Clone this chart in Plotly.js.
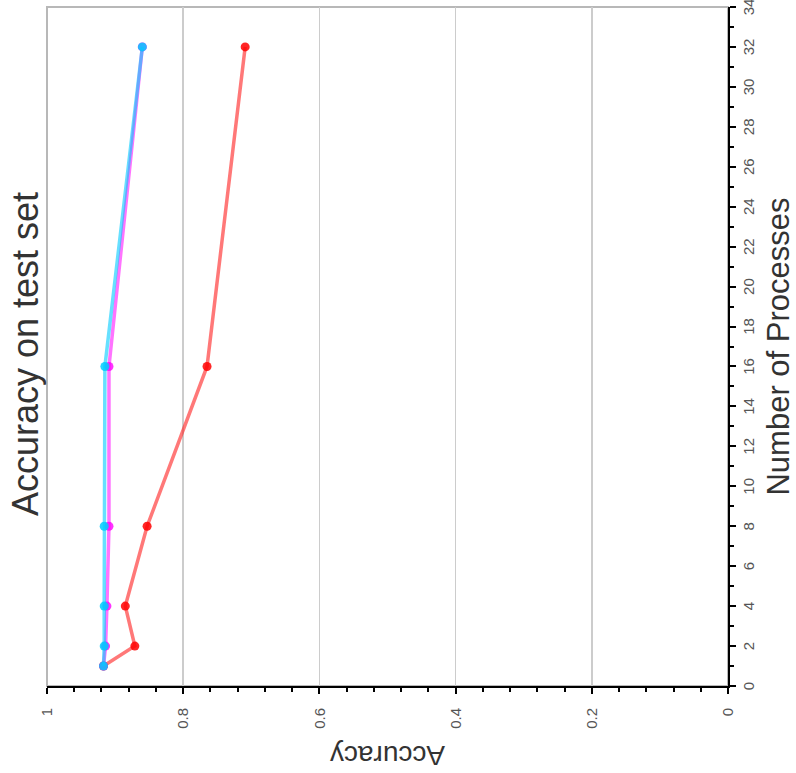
<!DOCTYPE html>
<html>
<head>
<meta charset="utf-8">
<script src="https://cdn.plot.ly/plotly-3.0.1.min.js"></script>
<style>
html, body { margin:0; padding:0; width:796px; height:773px; overflow:hidden; background:#fff; }
#plot { position:absolute; left:0; top:0; width:773px; height:796px;
        transform-origin: 0 0; transform: rotate(-90deg) translate(-773px, 0); }
</style>
</head>
<body>
<div id="plot"></div>
<script>
const processes = [1, 2, 4, 8, 16, 32];
const accRed     = [0.917, 0.871, 0.885, 0.853, 0.765, 0.709];
const accMagenta = [0.917, 0.914, 0.912, 0.909, 0.909, 0.860];
const accCyan    = [0.917, 0.916, 0.916, 0.916, 0.915, 0.860];
const xTickVals = [0,2,4,6,8,10,12,14,16,18,20,22,24,26,28,30,32,34];
const yTickVals = [0, 0.2, 0.4, 0.6, 0.8, 1];

const FONT = 'Liberation Sans, Arial, Helvetica, sans-serif';

function series(y, lineColor, markerColor) {
  return {
    x: processes, y: y, type: 'scatter', mode: 'lines+markers',
    line: {color: lineColor, width: 3.5},
    marker: {color: markerColor, size: 9},
    showlegend: false, hoverinfo: 'skip'
  };
}

const data = [
  series(accRed, 'rgba(255,30,30,0.6)', 'rgba(255,0,0,0.85)'),
  series(accMagenta, 'rgba(255,0,255,0.55)', 'rgba(255,0,255,0.8)'),
  series(accCyan, 'rgba(0,204,255,0.6)', 'rgba(0,204,255,0.85)')
];

const layout = {
  width: 773, height: 796,
  margin: {l: 87, r: 7, t: 47, b: 68, autoexpand: false},
  paper_bgcolor: '#fff', plot_bgcolor: '#fff',
  font: {family: FONT, color: '#444'},
  title: {text: 'Accuracy on test set', font: {family: FONT, size: 36, color: '#333'},
          xref: 'container', x: 0.542, xanchor: 'center',
          yref: 'container', y: 0.968, yanchor: 'middle'},
  xaxis: {
    range: [0, 34], tickvals: xTickVals, ticktext: xTickVals.map(String),
    ticks: 'outside', ticklen: 6, tickwidth: 2, tickcolor: '#000',
    showline: true, linecolor: '#000', linewidth: 2,
    showgrid: false, zeroline: false, automargin: false,
    ticklabeloverflow: 'allow',
    tickfont: {family: FONT, size: 15, color: '#555'},
    minor: {dtick: 1, tick0: 0, ticks: 'outside', ticklen: 4, tickwidth: 2, tickcolor: '#000', showgrid: false},
    title: {text: 'Number of Processes', font: {family: FONT, size: 31, color: '#333'}, standoff: 12}
  },
  yaxis: {
    range: [0, 1], tickvals: yTickVals, ticktext: ['0','0.2','0.4','0.6','0.8','1'],
    ticks: 'outside', ticklen: 6, tickwidth: 2, tickcolor: '#000',
    showline: true, linecolor: '#000', linewidth: 2,
    showgrid: true, gridcolor: '#cccccc', gridwidth: 1.5, zeroline: false, automargin: false,
    tickfont: {family: FONT, size: 15, color: '#555'},
    ticklabelstandoff: 11,
    minor: {dtick: 0.04, tick0: 0, ticks: 'outside', ticklen: 4, tickwidth: 2, tickcolor: '#000', showgrid: false},
    title: {text: 'Accuracy', font: {family: FONT, size: 28, color: '#333'}, standoff: 8}
  },
  shapes: [{type: 'rect', xref: 'paper', yref: 'paper', x0: 0, x1: 1, y0: 0, y1: 1,
            line: {color: '#b8b8b8', width: 2}, layer: 'below'}]
};

Plotly.newPlot('plot', data, layout, {staticPlot: true, displayModeBar: false});
</script>
</body>
</html>
